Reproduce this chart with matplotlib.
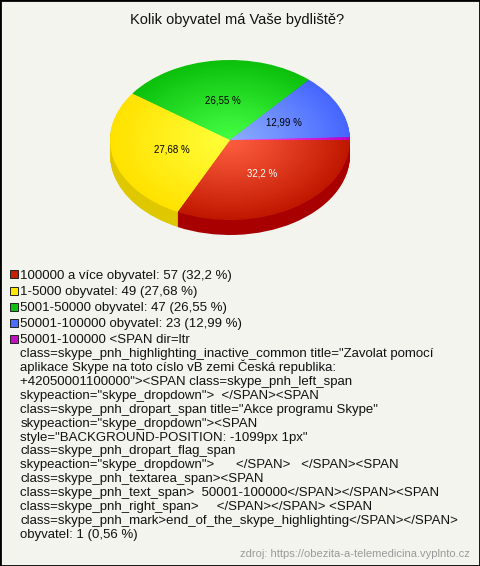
import matplotlib
matplotlib.use('Agg')
import matplotlib.pyplot as plt
import numpy as np
from matplotlib.patches import Rectangle
from matplotlib.colors import to_rgb

plt.rcParams['font.family'] = ['Liberation Sans', 'DejaVu Sans']

# ---------------- data ----------------
title = "Kolik obyvatel má Vaše bydliště?"
categories = [
    "100000 a více obyvatel",
    "1-5000 obyvatel",
    "5001-50000 obyvatel",
    "50001-100000 obyvatel",
    "50001-100000 <SPAN dir=ltr\n"
    "class=skype_pnh_highlighting_inactive_common title=\"Zavolat pomocí\n"
    "aplikace Skype na toto císlo vB zemi Česká republika:\n"
    "+42050001100000\"><SPAN class=skype_pnh_left_span\n"
    "skypeaction=\"skype_dropdown\">  </SPAN><SPAN\n"
    "class=skype_pnh_dropart_span title=\"Akce programu Skype\"\n"
    "skypeaction=\"skype_dropdown\"><SPAN\n"
    "style=\"BACKGROUND-POSITION: -1099px 1px\"\n"
    "class=skype_pnh_dropart_flag_span\n"
    "skypeaction=\"skype_dropdown\">      </SPAN>   </SPAN><SPAN\n"
    "class=skype_pnh_textarea_span><SPAN\n"
    "class=skype_pnh_text_span>  50001-100000</SPAN></SPAN><SPAN\n"
    "class=skype_pnh_right_span>     </SPAN></SPAN> <SPAN\n"
    "class=skype_pnh_mark>end_of_the_skype_highlighting</SPAN></SPAN>\n"
    "obyvatel",
]
counts = [57, 49, 47, 23, 1]
top_edge_colors = ['#C01800', '#FFE200', '#0CC00C', '#4666FF', '#C000C0']
top_center_colors = ['#FF5E40', '#FFFF3A', '#44FF44', '#8CAEFF', '#FF50FF']
side_colors = ['#A80000', '#E0C800', '#0A9A0A', '#3048C0', '#900090']
legend_colors = ['#C42000', '#FFE800', '#10C010', '#4A6CFF', '#C010C0']
pct_text_colors = ['white', 'black', 'black', 'black', 'black']
source = "zdroj: https://obezita-a-telemedicina.vyplnto.cz"

# ---------------- figure ----------------
W, H = 480, 566
fig = plt.figure(figsize=(W / 100, H / 100), dpi=100)
fig.patch.set_facecolor('#F4F4EE')
fig.add_artist(Rectangle((0, 0), 1, 1, transform=fig.transFigure, fill=False,
                         edgecolor='black', linewidth=2))

fig.text(237.5 / W, 1 - 20 / H, title, ha='center', va='center',
         fontsize=10.5, color='#111111')

# pie geometry (pixels)
cx, cy, rx, ry = 230, 140, 120, 80
xpad, ytop, ybot = 1.1, 1.1, 1.4
ax = fig.add_axes([(cx - rx * xpad) / W, 1 - (cy + ry * ybot) / H,
                   2 * rx * xpad / W, ry * (ytop + ybot) / H])

depth = 15 / ry
n_side = 18
for k in range(n_side, 0, -1):
    off = depth * k / n_side
    ax.pie(counts, colors=side_colors, startangle=0, counterclock=False,
           center=(0, -off), radius=1,
           wedgeprops=dict(linewidth=0, antialiased=True))


def fmt(p):
    if p < 1:
        return ''
    return f"{round(p, 2):g}".replace('.', ',') + " %"


_, texts, autotexts = ax.pie(counts, colors=top_edge_colors, startangle=0,
                             counterclock=False, radius=1, autopct=fmt,
                             pctdistance=0.5,
                             wedgeprops=dict(linewidth=0, antialiased=True),
                             textprops=dict(fontsize=7))
for t, c in zip(autotexts, pct_text_colors):
    t.set_color(c)
    t.set_zorder(10)

edge_rgb = np.array([to_rgb(c) for c in top_edge_colors])
center_rgb = np.array([to_rgb(c) for c in top_center_colors])
n_grad = 30
for i in range(1, n_grad):
    r = 1 - i / n_grad
    cols = center_rgb + (edge_rgb - center_rgb) * (r ** 1.1)
    ax.pie(counts, colors=[tuple(c) for c in cols], startangle=0,
           counterclock=False, radius=r,
           wedgeprops=dict(linewidth=0, antialiased=True))

ax.set_aspect('auto')
ax.set_xlim(-xpad, xpad)
ax.set_ylim(-ybot, ytop)
ax.axis('off')

# ---------------- legend ----------------
total = sum(counts)
y = 274.5          # visual centre of first legend line (px from top)
line_h = 13.93
item_gap = 16.0
for cat, n, col in zip(categories, counts, legend_colors):
    pct = f"{round(100 * n / total, 2):g}".replace('.', ',')
    label = f"{cat}: {n} ({pct} %)"
    fig.add_artist(Rectangle((9.5 / W, 1 - (y + 4) / H), 8 / W, 8 / H,
                             transform=fig.transFigure, facecolor=col,
                             edgecolor='#222222', linewidth=0.7))
    lines = label.split('\n')
    for j, line in enumerate(lines):
        yb = round(y + line_h * j + 4.5)
        fig.text(20.5 / W, 1 - yb / H, line, ha='left',
                 va='baseline', fontsize=9.5, color='#111111')
    y += line_h * (len(lines) - 1) + item_gap

fig.text(470 / W, 1 - 557 / H, source, ha='right', va='baseline',
         fontsize=8, color='#999999')

fig.savefig('out.png', dpi=100, facecolor=fig.get_facecolor())
